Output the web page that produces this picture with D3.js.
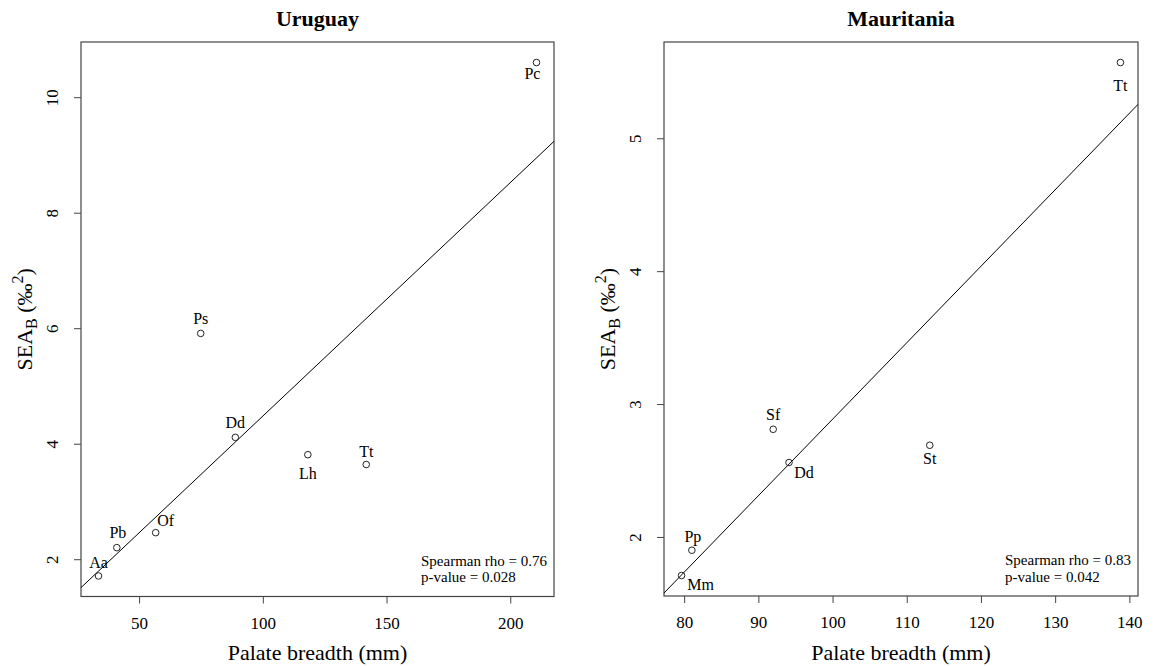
<!DOCTYPE html>
<html>
<head>
<meta charset="utf-8">
<script src="https://cdn.jsdelivr.net/npm/d3@7"></script>
<style>
  body { margin: 0; background: #fff; }
  svg text { font-family: "Liberation Serif", "Times New Roman", serif; fill: #000; }
</style>
</head>
<body>
<div id="chart"></div>
<script>
// Uruguay
const uruguaySpecies = ["Aa", "Pb", "Of", "Ps", "Dd", "Lh", "Tt", "Pc"];
const uruguayPalate = [33.6, 41.0, 56.7, 74.9, 88.9, 118.2, 141.8, 210.6];
const uruguaySEA = [1.71, 2.20, 2.46, 5.91, 4.11, 3.81, 3.64, 10.60];
const uruguayXTicks = [50, 100, 150, 200];
const uruguayYTicks = [2, 4, 6, 8, 10];
const uruguayStats = ["Spearman rho = 0.76", "p-value = 0.028"];

// Mauritania
const mauritaniaSpecies = ["Mm", "Pp", "Sf", "Dd", "St", "Tt"];
const mauritaniaPalate = [79.65, 81.04, 92.0, 94.13, 113.1, 138.8];
const mauritaniaSEA = [1.71, 1.90, 2.81, 2.56, 2.69, 5.57];
const mauritaniaXTicks = [80, 90, 100, 110, 120, 130, 140];
const mauritaniaYTicks = [2, 3, 4, 5];
const mauritaniaStats = ["Spearman rho = 0.83", "p-value = 0.042"];

const width = 1155, height = 666;
const serif = "'Liberation Serif', 'Times New Roman', serif";

const svg = d3.select("#chart").append("svg")
    .attr("width", width)
    .attr("height", height);

// label offsets (dx, dy from the point) for each panel
const panels = [
    {
        title: "Uruguay", species: uruguaySpecies, x: uruguayPalate, y: uruguaySEA,
        xTicks: uruguayXTicks, yTicks: uruguayYTicks, stats: uruguayStats,
        left: 81, right: 554, top: 42, bottom: 596.5,
        offsets: [[0, -14], [1, -15], [10, -12], [0, -15], [0, -15], [0, 19], [0, -13], [-4, 11]]
    },
    {
        title: "Mauritania", species: mauritaniaSpecies, x: mauritaniaPalate, y: mauritaniaSEA,
        xTicks: mauritaniaXTicks, yTicks: mauritaniaYTicks, stats: mauritaniaStats,
        left: 664, right: 1138, top: 42, bottom: 596,
        offsets: [[19, 9], [1, -14], [0, -15], [15, 10], [0, 13], [0, 23]]
    }
];

// padded extent, like R's default axis range
function padded(values) {
    const [lo, hi] = d3.extent(values);
    const d = (hi - lo) * 0.04;
    return [lo - d, hi + d];
}

// least squares fit
function linearFit(xs, ys) {
    const mx = d3.mean(xs), my = d3.mean(ys);
    let sxy = 0, sxx = 0;
    xs.forEach((v, i) => {
        sxy += (v - mx) * (ys[i] - my);
        sxx += (v - mx) * (v - mx);
    });
    const slope = sxy / sxx;
    return { slope: slope, intercept: my - slope * mx };
}

panels.forEach(function(p, k) {
    const x = d3.scaleLinear().domain(padded(p.x)).range([p.left, p.right]);
    const y = d3.scaleLinear().domain(padded(p.y)).range([p.bottom, p.top]);
    const g = svg.append("g");
    const cx = (p.left + p.right) / 2;
    const cy = (p.top + p.bottom) / 2;

    // title
    g.append("text")
        .attr("x", cx)
        .attr("y", 26)
        .attr("text-anchor", "middle")
        .style("font-size", "22px")
        .style("font-weight", "bold")
        .text(p.title);

    // axes
    const xAxis = g.append("g")
        .attr("transform", "translate(0," + p.bottom + ")")
        .attr("font-family", serif)
        .call(d3.axisBottom(x).tickValues(p.xTicks).tickFormat(d3.format("d")).tickSize(7));
    xAxis.select(".domain").remove();
    xAxis.selectAll("line").attr("stroke", "#444");
    xAxis.selectAll("text")
        .attr("y", null).attr("dy", null)
        .attr("transform", "translate(0,32)")
        .style("font-size", "17px")
        .style("font-family", serif);

    const yAxis = g.append("g")
        .attr("transform", "translate(" + p.left + ",0)")
        .attr("font-family", serif)
        .call(d3.axisLeft(y).tickValues(p.yTicks).tickFormat(d3.format("d")).tickSize(7));
    yAxis.select(".domain").remove();
    yAxis.selectAll("line").attr("stroke", "#444");
    yAxis.selectAll("text")
        .attr("x", null).attr("dy", null)
        .attr("text-anchor", "middle")
        .attr("transform", "translate(-23,0) rotate(-90)")
        .style("font-size", "17px")
        .style("font-family", serif);

    // box
    g.append("rect")
        .attr("x", p.left)
        .attr("y", p.top)
        .attr("width", p.right - p.left)
        .attr("height", p.bottom - p.top)
        .attr("fill", "none")
        .attr("stroke", "#444")
        .attr("stroke-width", 1.2);

    // regression line
    const clipId = "clip" + k;
    g.append("clipPath").attr("id", clipId)
        .append("rect")
        .attr("x", p.left).attr("y", p.top)
        .attr("width", p.right - p.left).attr("height", p.bottom - p.top);
    const fit = linearFit(p.x, p.y);
    const [x0, x1] = x.domain();
    g.append("line")
        .attr("clip-path", "url(#" + clipId + ")")
        .attr("x1", x(x0)).attr("y1", y(fit.intercept + fit.slope * x0))
        .attr("x2", x(x1)).attr("y2", y(fit.intercept + fit.slope * x1))
        .attr("stroke", "#000")
        .attr("stroke-width", 1);

    // points
    const pts = p.x.map((v, i) => ({ x: v, y: p.y[i], name: p.species[i], off: p.offsets[i] }));
    g.selectAll("circle.pt")
        .data(pts)
        .enter().append("circle")
        .attr("class", "pt")
        .attr("cx", d => x(d.x))
        .attr("cy", d => y(d.y))
        .attr("r", 3.3)
        .attr("fill", "none")
        .attr("stroke", "#222")
        .attr("stroke-width", 1);

    g.selectAll("text.lab")
        .data(pts)
        .enter().append("text")
        .attr("class", "lab")
        .attr("x", d => x(d.x) + d.off[0])
        .attr("y", d => y(d.y) + d.off[1])
        .attr("dy", "0.35em")
        .attr("text-anchor", "middle")
        .style("font-size", "16px")
        .text(d => d.name);

    // statistics
    g.selectAll("text.stat")
        .data(p.stats)
        .enter().append("text")
        .attr("class", "stat")
        .attr("x", p.right - 133)
        .attr("y", (d, i) => p.bottom - 31 + i * 16.5)
        .style("font-size", "15px")
        .text(d => d);

    // axis titles
    g.append("text")
        .attr("x", cx)
        .attr("y", 660)
        .attr("text-anchor", "middle")
        .style("font-size", "22px")
        .text("Palate breadth (mm)");

    const yl = g.append("text")
        .attr("transform", "translate(" + (p.left - 49) + "," + cy + ") rotate(-90)")
        .attr("text-anchor", "middle")
        .style("font-size", "22px");
    yl.append("tspan").text("SEA");
    yl.append("tspan").attr("dy", 5).style("font-size", "16px").text("B");
    yl.append("tspan").attr("dy", -5).text(" (\u2030");
    yl.append("tspan").attr("dy", -9).style("font-size", "16px").text("2");
    yl.append("tspan").attr("dy", 9).text(")");
});
</script>
</body>
</html>
